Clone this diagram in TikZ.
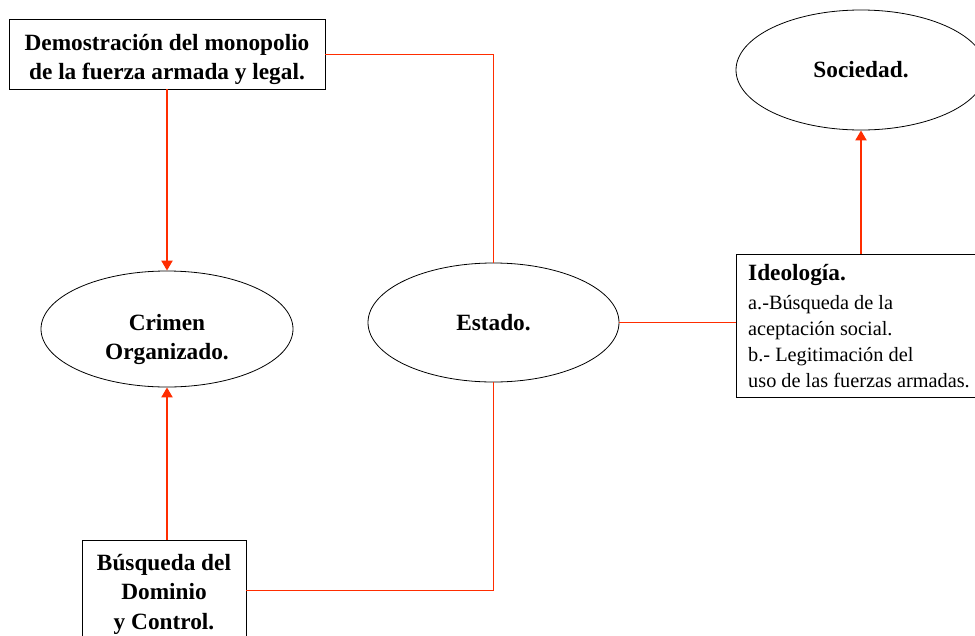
\documentclass[tikz,border=0pt]{standalone}
\usepackage{fontspec}
\setmainfont{Liberation Serif}
\usetikzlibrary{shapes.geometric,arrows.meta}
\definecolor{redc}{RGB}{255,45,0}
\begin{document}
\begin{tikzpicture}[x=1pt,y=-1pt,
  box/.style={draw, line width=0.8pt, fill=white, inner sep=0pt, align=center},
  ell/.style={ellipse, draw, line width=0.8pt, inner sep=0pt},
  btxt/.style={font=\fontsize{23.3}{29.5}\selectfont\bfseries, align=center, inner sep=0pt},
  arr/.style={draw=redc, line width=2pt, -{Triangle[length=10pt,width=11pt]}},
  conn/.style={draw=redc, line width=0.9pt}]
\clip (0,0) rectangle (975,635);
\fill[white] (0,0) rectangle (975,635);
% boxes
\node[box, minimum width=316pt, minimum height=70pt] (demo) at (167,54) {};
\node[btxt] (demot) at (167,59.5) {Demostración del monopolio\\de la fuerza armada y legal.};
\node[box, minimum width=164pt, minimum height=100pt] (busq) at (164,590) {};
\node[btxt] (busqt) at (164,594) {Búsqueda del\\Dominio\\y Control.};
\node[box, minimum width=244pt, minimum height=143pt] (ideo) at (858,325.5) {};
\node[anchor=north west, inner sep=0pt, align=left,
  font=\fontsize{20.3}{26}\selectfont] (ideot) at (748,264)
  {{\fontsize{23.3}{26}\selectfont\bfseries Ideología.}\\[3pt]
   a.-Búsqueda de la\\
   aceptación social.\\
   b.- Legitimación del\\
   uso de las fuerzas armadas.};
% ellipses
\node[ell, minimum width=252pt, minimum height=116pt] (crim) at (167,329) {};
\node[btxt, font=\fontsize{23.3}{28.5}\selectfont\bfseries] (crimt) at (167,339.5) {Crimen\\Organizado.};
\node[ell, minimum width=251pt, minimum height=119pt, btxt] (est) at (493.5,322.5) {Estado.};
\node[ell, minimum width=250pt, minimum height=120pt, btxt] (soc) at (861,70) {Sociedad.};
% connectors
\draw[conn] (demo.east) -| (est.north);
\draw[conn] (busq.east) -| (est.south);
\draw[conn] (est.east) -- (est.east -| ideo.west);
\draw[arr] (demo.south -| crim.north) -- (crim.north);
\draw[arr] (busq.north -| crim.south) -- (crim.south);
\draw[arr] (ideo.north -| soc.south) -- (soc.south);
\end{tikzpicture}
\end{document}
